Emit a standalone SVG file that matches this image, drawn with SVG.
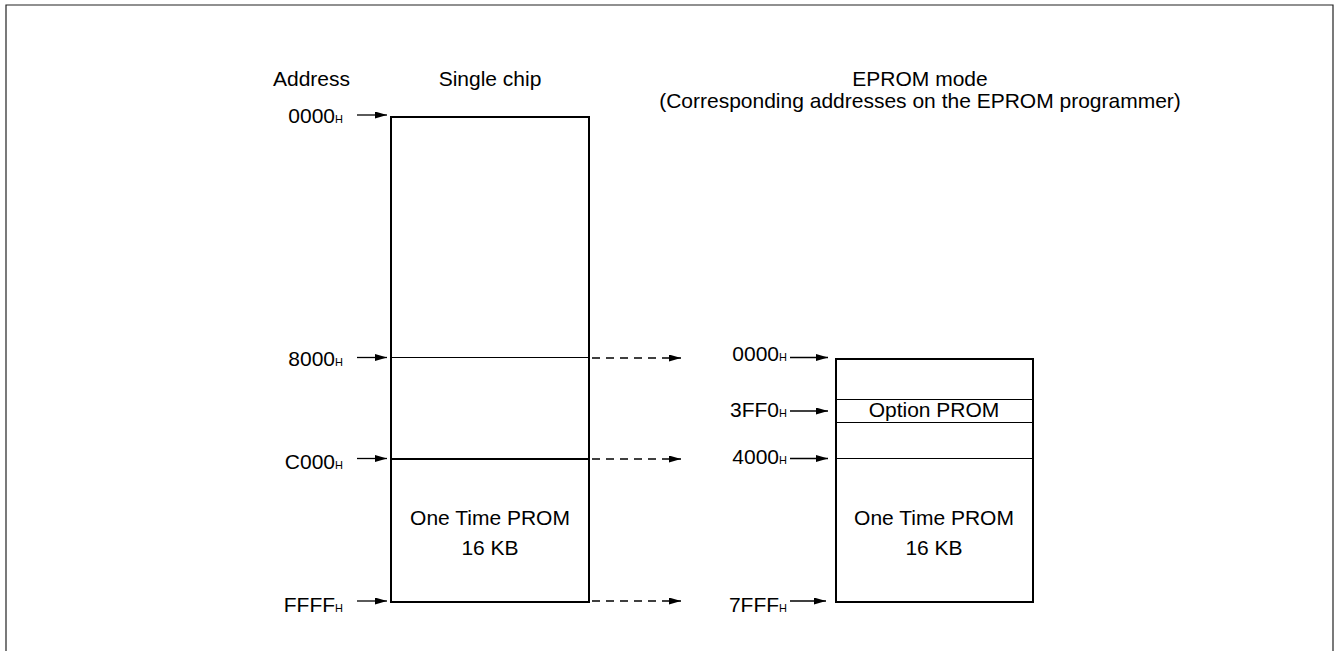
<svg xmlns="http://www.w3.org/2000/svg" width="1336" height="651" viewBox="0 0 1336 651">
<style>
text{font-family:"Liberation Sans",Arial,sans-serif;font-size:21px;fill:#000}
.sub{font-size:11px}
.box{fill:none;stroke:#000;stroke-width:2}
.thin{stroke:#000;stroke-width:1}
.mid{stroke:#000;stroke-width:1.8}
.arr{stroke:#000;stroke-width:1.3;fill:none}
.dash{stroke:#000;stroke-width:1.3;fill:none;stroke-dasharray:8,6}
</style>
<defs>
<marker id="ah" viewBox="0 0 12 7" refX="12" refY="3.5" markerWidth="12" markerHeight="7" markerUnits="userSpaceOnUse" orient="auto"><path d="M0,0 L12,3.5 L0,7 z" fill="#000"/></marker>
</defs>
<path d="M6,651 V5 H1333 V651" fill="none" stroke="#222" stroke-width="1.2"/>
<g id="headers">
<text x="273" y="86">Address</text>
<text x="490" y="86" text-anchor="middle">Single chip</text>
<text x="920" y="86" text-anchor="middle">EPROM mode</text>
<text x="920" y="108" text-anchor="middle">(Corresponding addresses on the EPROM programmer)</text>
</g>
<g id="single-chip">
<rect class="box" x="391" y="117" width="198" height="485"/>
<line class="thin" x1="391" y1="357.5" x2="589" y2="357.5"/>
<line class="mid" x1="391" y1="459" x2="589" y2="459"/>
<text x="490" y="525" text-anchor="middle">One Time PROM</text>
<text x="490" y="555" text-anchor="middle">16 KB</text>
</g>
<g id="eprom">
<rect class="box" x="836" y="359" width="197" height="243"/>
<line class="thin" x1="836" y1="399.5" x2="1033" y2="399.5"/>
<line class="thin" x1="836" y1="422.5" x2="1033" y2="422.5"/>
<line class="thin" x1="836" y1="458.5" x2="1033" y2="458.5"/>
<text x="934" y="416.5" text-anchor="middle">Option PROM</text>
<text x="934" y="525" text-anchor="middle">One Time PROM</text>
<text x="934" y="555" text-anchor="middle">16 KB</text>
</g>
<g id="labels-left">
<text x="343" y="122.5" text-anchor="end">0000<tspan class="sub">H</tspan></text>
<text x="343" y="366" text-anchor="end">8000<tspan class="sub">H</tspan></text>
<text x="343" y="468.5" text-anchor="end">C000<tspan class="sub">H</tspan></text>
<text x="343" y="612" text-anchor="end">FFFF<tspan class="sub">H</tspan></text>
</g>
<g id="labels-right">
<text x="787" y="361" text-anchor="end">0000<tspan class="sub">H</tspan></text>
<text x="787" y="416.5" text-anchor="end">3FF0<tspan class="sub">H</tspan></text>
<text x="787" y="464" text-anchor="end">4000<tspan class="sub">H</tspan></text>
<text x="787" y="611.5" text-anchor="end">7FFF<tspan class="sub">H</tspan></text>
</g>
<g id="connectors">
<line class="arr" x1="357" y1="115" x2="387" y2="115" marker-end="url(#ah)"/>
<line class="arr" x1="357" y1="357.5" x2="387" y2="357.5" marker-end="url(#ah)"/>
<line class="arr" x1="357" y1="458.5" x2="387" y2="458.5" marker-end="url(#ah)"/>
<line class="arr" x1="357" y1="601" x2="387" y2="601" marker-end="url(#ah)"/>
<line class="arr" x1="790" y1="357.5" x2="828" y2="357.5" marker-end="url(#ah)"/>
<line class="arr" x1="790" y1="411" x2="828" y2="411" marker-end="url(#ah)"/>
<line class="arr" x1="790" y1="458.5" x2="828" y2="458.5" marker-end="url(#ah)"/>
<line class="arr" x1="790" y1="601" x2="826" y2="601" marker-end="url(#ah)"/>
<line class="dash" x1="592" y1="358" x2="681" y2="358" marker-end="url(#ah)"/>
<line class="dash" x1="592" y1="459" x2="681" y2="459" marker-end="url(#ah)"/>
<line class="dash" x1="592" y1="601" x2="681" y2="601" marker-end="url(#ah)"/>
</g>
</svg>
